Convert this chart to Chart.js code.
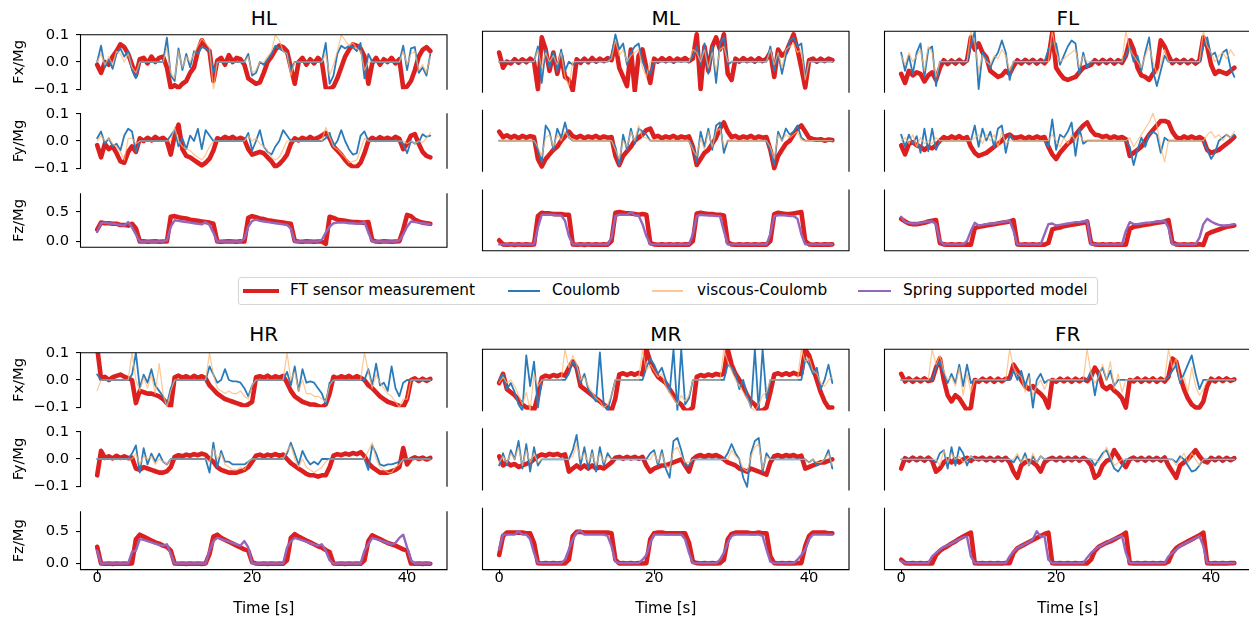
<!DOCTYPE html>
<html><head><meta charset="utf-8">
<script src="https://cdn.jsdelivr.net/npm/chart.js@4.4.0/dist/chart.umd.min.js"></script>
<style>
html,body{margin:0;padding:0;background:#fff;}
body{width:1249px;height:621px;overflow:hidden;position:relative;font-family:"DejaVu Sans",sans-serif;color:#000;}
canvas{position:absolute;}
.ttl{position:absolute;transform:translate(-50%,-50%);font-size:20px;line-height:1;white-space:nowrap;}
.lt{position:absolute;transform:translateY(-50%);font-size:15.3px;line-height:1;white-space:nowrap;}
.sw{position:absolute;}
#err{position:absolute;left:5px;top:300px;color:#f00;font-size:11px;}
</style></head><body>
<div class="ttl" style="left:263.75px;top:18.3px">HL</div>
<div class="ttl" style="left:665.75px;top:18.3px">ML</div>
<div class="ttl" style="left:1067.75px;top:18.3px">FL</div>
<div class="ttl" style="left:263.75px;top:333.5px">HR</div>
<div class="ttl" style="left:665.75px;top:333.5px">MR</div>
<div class="ttl" style="left:1067.75px;top:333.5px">FR</div>
<div style="position:absolute;left:238px;top:277px;width:860px;height:28px;border:1px solid #d6d6d6;border-radius:3px;box-sizing:border-box;"></div>
<div class="sw" style="left:243px;top:289px;width:36px;height:4px;background:#dc1f1f"></div>
<div class="lt" style="left:290px;top:291px">FT sensor measurement</div>
<div class="sw" style="left:508px;top:290.2px;width:32px;height:1.6px;background:#2b7bba"></div>
<div class="lt" style="left:552px;top:291px">Coulomb</div>
<div class="sw" style="left:652px;top:290.4px;width:31px;height:1.2px;background:rgba(255,180,110,0.75)"></div>
<div class="lt" style="left:697px;top:291px">viscous-Coulomb</div>
<div class="sw" style="left:858px;top:290px;width:33px;height:2.2px;background:#9467bd"></div>
<div class="lt" style="left:903px;top:291px">Spring supported model</div>
<div id="err"></div>
<script>
// ---------------- data ----------------
const TIME = [0,0.5,1,1.5,2,2.5,3,3.5,4,4.5,5,5.5,6,6.5,7,7.5,8,8.5,9,9.5,10,10.5,11,11.5,12,12.5,13,13.5,14,14.5,15,15.5,16,16.5,17,17.5,18,18.5,19,19.5,20,20.5,21,21.5,22,22.5,23,23.5,24,24.5,25,25.5,26,26.5,27,27.5,28,28.5,29,29.5,30,30.5,31,31.5,32,32.5,33,33.5,34,34.5,35,35.5,36,36.5,37,37.5,38,38.5,39,39.5,40,40.5,41,41.5,42,42.5,43];
const LEGS = ['HL','ML','FL','HR','MR','FR'];
const SERIES_NAMES = ['FT sensor measurement','Coulomb','viscous-Coulomb','Spring supported model'];
const Y_LABELS = ['Fx/Mg','Fy/Mg','Fz/Mg'];
const X_TICKS = [0,20,40];
const FXY_TICKS = [-0.1,0,0.1];
const FZ_TICKS = [0,0.5];

// ---- HL ----
const HL_FX_FT = [-0.01,-0.04,0.0,-0.01,0.02,0.04,0.065,0.055,0.03,-0.01,
-0.05,0.01,0.015,-0.005,0.02,0.0,0.015,0.02,-0.02,-0.095,
-0.085,-0.095,-0.08,-0.07,-0.04,-0.02,0.04,0.08,0.055,0.04,
-0.07,0.005,0.015,-0.01,0.025,0.0,0.015,0.01,-0.01,-0.06,
-0.07,-0.08,-0.075,-0.04,0.0,0.02,0.045,0.06,0.055,0.04,
-0.02,-0.08,0.0,0.015,-0.01,0.01,-0.005,0.015,0.0,-0.095,
-0.1,-0.09,-0.06,-0.02,0.02,0.045,0.065,0.06,0.05,0.02,
-0.08,-0.005,0.015,-0.01,0.01,0.0,0.015,-0.005,0.01,-0.095,
-0.09,-0.07,-0.03,0.02,0.045,0.055,0.04];
const HL_FX_COUL = [0.0,0.06,-0.02,0.01,-0.025,0.03,0.05,0.02,0.04,-0.03,
-0.06,0,0,0,0,0,0,0,0.09,-0.05,
-0.07,0.05,-0.03,0.03,-0.02,0.04,0.03,0.055,0.05,0.04,
-0.04,0,0,0,0,0,0,0,0,0.03,
-0.05,-0.04,0.0,-0.01,0.01,0.03,0.06,0.05,0.04,0.03,
-0.03,0,0,0,0,0,0,0,0,0.07,
-0.08,-0.05,0.03,0.06,0.05,0.06,0.055,0.04,0.07,-0.06,
0.03,0,0,0,0,0,0,0,0,0.06,
-0.03,0.05,0.055,-0.04,-0.02,-0.05,0.03];
const HL_FX_VISC = [0.0,0.03,-0.01,0.02,-0.01,0.04,0.03,0.0,0.03,-0.02,
-0.04,0,0,0,0,0,0,0,0.05,-0.04,
-0.06,0.04,-0.02,0.02,0.0,0.03,0.06,0.085,0.07,0.05,
-0.1,0,0,0,0,0,0,0,0,0.02,
-0.04,-0.03,0.0,0.0,0.02,0.04,0.1,0.08,0.04,0.03,
-0.05,0,0,0,0,0,0,0,0,0.03,
-0.05,-0.01,0.04,0.1,0.08,0.06,0.07,0.05,0.04,-0.03,
0.0,0,0,0,0,0,0,0,0,0.04,
-0.01,0.03,0.04,-0.03,-0.01,-0.04,0.02];
const HL_FY_FT = [-0.015,-0.06,-0.01,-0.03,-0.02,-0.045,-0.075,-0.08,-0.04,-0.02,
-0.04,0.01,0.0,0.012,0.002,0.015,0.005,0.012,0.0,-0.05,
0.02,0.06,-0.03,-0.055,-0.06,-0.07,-0.08,-0.09,-0.08,-0.065,
-0.035,0.01,0.005,0.015,0.008,0.015,0.005,0.012,0.005,-0.03,
-0.05,-0.045,-0.04,-0.045,-0.06,-0.075,-0.095,-0.085,-0.07,-0.05,
-0.01,0.01,0.002,0.012,0.005,0.015,0.006,0.012,0.02,0.03,
0.01,-0.02,-0.035,-0.05,-0.07,-0.085,-0.095,-0.095,-0.08,-0.045,
0.0,0.012,0.004,0.014,0.006,0.012,0.005,0.015,0.008,-0.03,
-0.01,0.02,0.025,-0.01,-0.04,-0.055,-0.06];
const HL_FY_COUL = [0.01,0.035,-0.01,0.01,-0.02,-0.01,-0.035,0.02,0.045,0.035,
-0.04,0,0,0,0,0,0,0,0,0.02,
0.04,-0.02,0.01,-0.03,0.02,0.0,0.045,-0.03,0.04,0.02,
0.0,0,0,0,0,0,0,0,0,0.03,
-0.035,0.0,0.04,-0.02,-0.04,-0.05,-0.02,0.0,0.04,0.02,
0.0,0,0,0,0,0,0,0,0,0.01,
0.03,-0.02,0.0,0.04,0.0,-0.03,-0.05,-0.045,0.02,0.035,
0.0,0,0,0,0,0,0,0,0,-0.01,
-0.045,0.0,-0.01,-0.005,0.025,0.015,0.02];
const HL_FY_VISC = [0.0,0.02,0.0,0.01,-0.01,-0.02,-0.04,-0.07,0.01,0.01,
-0.01,0,0,0,0,0,0,0,0,0.0,
0.05,0.0,-0.02,-0.03,-0.035,-0.05,-0.06,-0.07,-0.05,-0.02,
0.0,0,0,0,0,0,0,0,0,0.02,
0.0,0.01,-0.01,-0.02,-0.035,-0.06,-0.07,-0.06,-0.03,0.0,
0.0,0,0,0,0,0,0,0,0,0.05,
0.015,-0.02,-0.03,-0.045,-0.06,-0.08,-0.075,-0.07,-0.03,0.01,
0.0,0,0,0,0,0,0,0,0,0.0,
-0.01,0.0,-0.01,0.0,-0.005,0.01,0.03];
const HL_FZ_FT = [0.2,0.32,0.31,0.31,0.30,0.30,0.28,0.28,0.27,0.30,
0.22,0.0,0.005,-0.005,0.0,0.005,-0.005,0.0,0.0,0.42,
0.43,0.41,0.40,0.39,0.37,0.36,0.35,0.34,0.33,0.32,
0.30,0.0,-0.005,0.0,0.005,0.0,-0.005,0.005,0.0,0.40,
0.43,0.41,0.39,0.38,0.36,0.35,0.34,0.33,0.32,0.31,
0.30,0.01,0.0,-0.005,0.005,0.0,-0.005,0.0,0.0,-0.04,
0.42,0.40,0.37,0.36,0.35,0.34,0.33,0.33,0.32,0.32,
0.33,0.02,0.0,-0.005,0.005,0.0,-0.005,0.0,0.005,0.20,
0.45,0.43,0.37,0.34,0.32,0.31,0.30];
const HL_FZ_SPRING = [0.16,0.31,0.32,0.31,0.30,0.29,0.28,0.27,0.33,0.24,
0.12,0,0,0,0,0,0,0,0.02,0.25,
0.36,0.35,0.34,0.33,0.32,0.31,0.30,0.29,0.33,0.28,
0.15,0,0,0,0,0,0,0,0.05,0.25,
0.35,0.37,0.35,0.34,0.33,0.32,0.31,0.30,0.29,0.28,
0.22,0,0,0,0,0,0,0,0.03,0.15,
0.25,0.31,0.32,0.32,0.32,0.31,0.31,0.30,0.30,0.33,
0.15,0,0,0,0,0,0,0,0.02,0.12,
0.25,0.34,0.33,0.32,0.31,0.30,0.29];

// ---- ML ----
const ML_FX_FT = [0.03,-0.02,0.0,-0.006,0.008,-0.004,0.008,-0.002,0.01,0.0,
-0.09,0.08,0.04,-0.03,0.03,-0.04,0.02,-0.05,-0.06,-0.095,
0.008,-0.004,0.01,-0.002,0.012,0.0,0.01,0.002,0.012,0.005,
0.06,-0.02,-0.05,-0.08,0.04,-0.095,0.02,0.04,-0.02,-0.07,
0.01,0.0,0.012,0.002,0.012,0.0,0.01,0.004,0.012,0.002,
0.01,0.09,-0.09,0.05,-0.03,0.05,0.08,0.04,0.09,-0.04,
-0.06,0.01,0.0,0.012,0.002,0.01,0.0,0.012,0.002,0.01,
0.03,-0.05,0.04,0.02,0.03,0.06,0.09,0.04,-0.02,-0.085,
0.005,0.01,0.0,0.01,0.002,0.01,0.005];
const ML_FX_COUL = [0,0,0,0,0,0,0,0,0,0,
0.05,-0.07,0.04,-0.02,0.03,-0.03,0.04,-0.03,0.0,-0.01,
0,0,0,0,0,0,0,0,0,0.02,
0.09,0.04,0.06,-0.01,0.03,0.05,0.06,0.0,-0.03,-0.04,
0,0,0,0,0,0,0,0,0,0,
0.02,0.05,-0.01,0.06,-0.04,0.05,-0.07,0.06,0.08,-0.01,
0,0,0,0,0,0,0,0,0,0,
0.05,-0.03,0.03,-0.04,0.02,0.07,0.08,0.05,0.06,-0.05,
0,0,0,0,0,0,0];
const ML_FX_VISC = [0,0,0,0,0,0,0,0,0,0,
0.04,-0.02,0.03,0.0,0.02,-0.01,0.03,-0.05,-0.08,0.0,
0,0,0,0,0,0,0,0,0,0.01,
0.07,0.02,0.04,0.0,0.02,0.03,0.04,-0.02,-0.05,0.0,
0,0,0,0,0,0,0,0,0,0,
0.04,0.03,0.0,0.04,-0.02,0.03,-0.03,0.04,0.05,0.0,
0,0,0,0,0,0,0,0,0,0,
0.04,-0.01,0.03,-0.02,0.04,0.05,0.06,0.03,0.04,-0.06,
0,0,0,0,0,0,0];
const ML_FY_FT = [0.03,0.012,0.018,0.01,0.016,0.008,0.016,0.01,0.015,0.012,
-0.06,-0.085,-0.06,-0.045,-0.03,-0.02,0.0,0.015,0.03,0.015,
0.01,0.016,0.008,0.014,0.01,0.016,0.008,0.014,0.01,0.012,
-0.05,-0.08,-0.05,-0.035,-0.02,0.0,0.01,0.02,0.035,0.04,
0.012,0.016,0.008,0.014,0.01,0.016,0.008,0.014,0.01,0.014,
-0.02,-0.08,-0.06,-0.04,-0.03,-0.01,0.01,0.04,0.06,0.03,
0.012,0.016,0.008,0.014,0.01,0.016,0.008,0.014,0.01,0.012,
-0.03,-0.09,-0.05,-0.03,-0.01,0.0,0.02,0.04,0.05,0.03,
0.01,0.006,0.003,0.005,0.0,0.004,0.002];
const ML_FY_COUL = [0,0,0,0,0,0,0,0,0,0,
-0.03,-0.07,0.05,0.03,-0.03,0.04,0.01,0.06,0.01,0.0,
0,0,0,0,0,0,0,0,0,0,
-0.02,-0.08,0.02,-0.03,0.04,-0.01,0.04,0.03,0.02,0.0,
0,0,0,0,0,0,0,0,0,0,
-0.02,-0.07,0.03,-0.02,0.04,-0.03,0.05,0.06,-0.04,0.0,
0,0,0,0,0,0,0,0,0,0,
-0.03,-0.08,0.03,0.0,0.04,0.02,0.03,0.05,0.01,0.0,
0,0,0,0,0,0,0];
const ML_FY_VISC = [0,0,0,0,0,0,0,0,0,0,
-0.02,-0.05,0.01,0.02,-0.02,0.02,0.0,0.03,0.01,0.0,
0,0,0,0,0,0,0,0,0,0,
-0.03,-0.06,0.0,-0.02,0.03,0.0,0.05,0.01,0.01,0.0,
0,0,0,0,0,0,0,0,0,0,
-0.03,-0.05,0.01,-0.03,0.03,-0.02,0.03,0.04,-0.02,0.0,
0,0,0,0,0,0,0,0,0,0,
-0.02,-0.06,0.02,0.0,0.02,0.01,0.02,0.03,0.0,0.0,
0,0,0,0,0,0,0];
const ML_FZ_FT = [0.06,0.0,-0.005,0.0,-0.008,0.0,-0.005,0.0,-0.006,0.0,
0.42,0.47,0.46,0.46,0.45,0.45,0.45,0.44,0.44,0.0,
-0.005,0.0,-0.008,0.0,-0.005,0.0,-0.006,0.0,-0.005,0.05,
0.47,0.48,0.47,0.46,0.46,0.45,0.44,0.45,0.44,0.02,
0.0,-0.005,0.0,-0.007,0.0,-0.005,0.0,-0.006,0.0,-0.004,
0.05,0.46,0.47,0.46,0.45,0.45,0.44,0.44,0.43,0.03,
0.0,-0.005,0.0,-0.006,0.0,-0.005,0.0,-0.007,0.0,-0.004,
0.05,0.45,0.47,0.46,0.45,0.45,0.46,0.47,0.48,0.05,
0.0,-0.005,0.0,-0.006,0.0,-0.004,0.0];
const ML_FZ_SPRING = [0,0,0,0,0,0,0,0,0,0,
0.25,0.44,0.44,0.44,0.44,0.43,0.43,0.35,0.12,0.0,
0,0,0,0,0,0,0,0,0,0.1,
0.42,0.44,0.44,0.44,0.48,0.43,0.43,0.30,0.12,0.0,
0,0,0,0,0,0,0,0,0,0,
0.15,0.42,0.44,0.43,0.43,0.43,0.42,0.42,0.2,0.0,
0,0,0,0,0,0,0,0,0,0,
0.15,0.42,0.43,0.43,0.43,0.42,0.42,0.38,0.15,0.0,
0,0,0,0,0,0,0];

// ---- FL ----
const FL_FX_FT = [-0.04,-0.07,-0.03,-0.045,-0.035,-0.04,-0.065,-0.045,-0.035,-0.06,
-0.02,0.005,-0.008,0.004,-0.006,0.006,-0.006,0.004,0.08,0.04,
0.06,0.03,0.015,-0.03,-0.04,-0.05,-0.045,-0.03,-0.04,-0.015,
0.005,-0.006,0.006,-0.004,0.006,-0.006,0.005,-0.005,0.01,0.095,
-0.02,-0.04,-0.055,-0.06,-0.055,-0.05,-0.035,-0.02,-0.015,-0.01,
0.005,-0.006,0.006,-0.004,0.006,-0.006,0.005,-0.004,0.02,0.07,
0.04,-0.02,-0.045,-0.05,-0.06,-0.04,-0.02,0.07,0.05,0.02,
-0.005,0.006,-0.004,0.006,-0.005,0.005,-0.006,0.004,0.08,0.05,
-0.01,-0.04,-0.03,-0.035,-0.04,-0.03,-0.02];
const FL_FX_COUL = [0.03,-0.03,0.02,-0.04,0.03,0.06,-0.05,0.04,0.05,-0.08,
0.0,0,0,0,0,0,0,0,0.05,0.1,
-0.09,0.03,0.01,-0.02,0.01,0.03,0.07,0.03,-0.06,0.0,
0,0,0,0,0,0,0,0,0.04,0.06,
0.06,-0.01,0.02,0.05,0.07,0.06,-0.04,0.03,-0.02,0.0,
0,0,0,0,0,0,0,0,0.02,0.05,
0.0,0.02,-0.03,0.03,0.08,-0.03,-0.08,-0.03,0.02,0.0,
0,0,0,0,0,0,0,0,0.05,0.08,
0.02,0.03,-0.01,0.03,0.04,-0.02,-0.05];
const FL_FX_VISC = [0.02,-0.01,0.03,0.0,0.02,0.04,-0.03,0.05,0.03,-0.05,
0.0,0,0,0,0,0,0,0,0.1,0.06,
-0.03,0.02,0.0,-0.01,0.02,0.01,0.04,0.02,-0.03,0.0,
0,0,0,0,0,0,0,0,0.0,0.1,
0.03,0.0,0.01,0.02,0.03,0.04,-0.02,0.02,0.0,0.0,
0,0,0,0,0,0,0,0,0.1,0.04,
0.02,0.0,-0.02,0.02,0.05,0.0,-0.04,-0.01,0.04,0.0,
0,0,0,0,0,0,0,0,0.1,0.05,
0.03,0.0,0.02,0.03,0.01,0.04,0.02];
const FL_FY_FT = [-0.015,-0.045,-0.01,-0.005,-0.015,-0.02,-0.03,-0.02,-0.025,-0.015,
0.0,0.012,0.006,0.014,0.008,0.015,0.006,0.012,-0.02,-0.04,
-0.05,-0.045,-0.04,-0.03,-0.02,-0.01,0.0,0.015,0.02,0.01,
0.01,0.014,0.006,0.013,0.007,0.014,0.008,0.012,-0.02,-0.045,
-0.06,-0.04,-0.025,-0.01,0.0,0.02,0.035,0.05,0.06,0.035,
0.02,0.018,0.012,0.016,0.008,0.014,0.008,0.012,0.005,-0.05,
-0.04,-0.03,-0.02,0.0,0.02,0.035,0.05,0.065,0.065,0.06,
0.03,0.012,0.006,0.014,0.008,0.014,0.007,0.012,0.004,-0.03,
-0.04,-0.035,-0.03,-0.02,-0.01,0.0,0.012];
const FL_FY_COUL = [0.02,-0.02,0.02,-0.01,0.015,-0.04,0.04,-0.035,0.04,-0.03,
0.0,0,0,0,0,0,0,0,0.0,0.05,
-0.02,0.04,0.0,0.03,-0.02,0.04,0.05,-0.04,0.02,0.0,
0,0,0,0,0,0,0,0,-0.02,0.07,
-0.03,0.02,0.01,0.03,0.06,-0.05,0.04,-0.01,0.0,0.0,
0,0,0,0,0,0,0,0,0.0,-0.02,
-0.08,-0.03,0.01,-0.02,0.02,0.03,0.02,-0.04,0.01,0.0,
0,0,0,0,0,0,0,0,0.0,-0.03,
-0.06,-0.04,0.0,0.01,0.02,0.01,0.02];
const FL_FY_VISC = [0.0,0.01,-0.01,0.02,-0.02,0.01,-0.01,0.0,-0.01,0.01,
0.0,0,0,0,0,0,0,0,0.0,0.01,
0.02,-0.01,0.02,0.0,0.02,-0.02,0.03,-0.01,0.0,0.0,
0,0,0,0,0,0,0,0,0.0,0.02,
0.0,-0.02,0.01,-0.01,0.02,0.0,0.02,0.0,0.0,0.0,
0,0,0,0,0,0,0,0,0.0,0.01,
-0.02,0.0,0.02,0.04,0.06,0.09,0.05,-0.02,-0.07,0.0,
0,0,0,0,0,0,0,0,0.0,0.02,
0.03,0.01,0.02,0.0,0.02,0.01,0.03];
const FL_FZ_FT = [0.38,0.34,0.31,0.30,0.30,0.31,0.32,0.34,0.35,0.36,
0.02,0.0,-0.005,0.0,-0.006,0.0,-0.005,0.0,-0.005,0.24,
0.26,0.27,0.28,0.29,0.30,0.31,0.32,0.33,0.34,0.36,
0.0,-0.005,0.0,-0.006,0.0,-0.005,0.0,-0.005,0.02,0.22,
0.24,0.25,0.27,0.28,0.29,0.30,0.31,0.32,0.34,0.02,
0.0,-0.005,0.0,-0.006,0.0,-0.005,0.0,-0.005,-0.005,0.23,
0.26,0.27,0.28,0.29,0.30,0.31,0.32,0.33,0.34,0.36,
0.03,0.0,-0.005,0.0,-0.006,0.0,-0.005,0.0,-0.01,0.15,
0.18,0.20,0.22,0.24,0.26,0.27,0.28];
const FL_FZ_SPRING = [0.41,0.33,0.32,0.31,0.31,0.32,0.33,0.34,0.34,0.30,
0.05,0,0,0,0,0,0,0.05,0.2,0.32,
0.28,0.29,0.30,0.31,0.31,0.32,0.33,0.34,0.35,0.2,
0.0,0,0,0,0,0,0,0.15,0.3,0.31,
0.28,0.29,0.30,0.31,0.32,0.33,0.33,0.34,0.35,0.0,
0,0,0,0,0,0,0,0,0.2,0.33,
0.30,0.30,0.31,0.32,0.32,0.33,0.34,0.34,0.35,0.25,
0.0,0,0,0,0,0,0,0.1,0.30,0.38,
0.34,0.31,0.29,0.28,0.28,0.29,0.30];

// ---- HR ----
const HR_FX_FT = [0.12,0.005,0.012,0.0,0.01,0.015,0.02,0.012,0.006,0.0,
-0.085,-0.04,-0.045,-0.05,-0.05,-0.055,-0.06,-0.07,-0.085,-0.1,
0.01,0.016,0.008,0.014,0.006,0.015,0.008,0.014,0.006,-0.02,
-0.035,-0.05,-0.06,-0.07,-0.075,-0.08,-0.085,-0.09,-0.095,-0.09,
-0.08,0.01,0.014,0.008,0.016,0.006,0.014,0.008,0.015,-0.01,
-0.04,-0.06,-0.07,-0.08,-0.085,-0.09,-0.09,-0.095,-0.1,-0.09,
-0.05,0.012,0.006,0.014,0.008,0.015,0.006,0.014,0.008,0.0,
-0.02,-0.03,-0.045,-0.06,-0.07,-0.08,-0.085,-0.09,-0.095,-0.1,
-0.07,0.0,0.006,-0.004,0.005,-0.003,0.004];
const HR_FX_COUL = [0.02,0,0,0,0,0,0,0,0,0.02,
0.1,-0.03,0.02,-0.01,0.04,-0.02,-0.04,-0.06,-0.09,-0.03,
0,0,0,0,0,0,0,0,0,0.05,
0.02,-0.01,0.0,0.04,0.0,-0.005,-0.005,-0.01,-0.03,-0.06,
-0.02,0,0,0,0,0,0,0,0,0.03,
-0.02,0.05,-0.04,0.04,-0.01,-0.005,-0.01,-0.03,-0.05,-0.09,
-0.01,0,0,0,0,0,0,0,0,0.0,
0.04,-0.02,0.06,-0.02,-0.01,-0.04,0.05,-0.03,-0.06,-0.01,
0,0,0,0,0,0,0];
const HR_FX_VISC = [-0.04,0,0,0,0,0,0,0,0,0.1,
0.0,-0.04,0.01,-0.03,0.02,-0.05,0.06,-0.05,-0.1,-0.04,
0,0,0,0,0,0,0,0,0,0.1,
0.02,-0.03,-0.04,-0.05,-0.04,-0.05,-0.05,-0.04,-0.06,-0.07,
-0.02,0,0,0,0,0,0,0,0,0.1,
0.0,0.03,-0.04,0.0,-0.05,-0.05,-0.06,-0.06,-0.07,-0.08,
-0.02,0,0,0,0,0,0,0,0,0.1,
0.03,-0.03,0.02,-0.01,-0.03,-0.05,-0.06,-0.08,-0.1,-0.07,
-0.07,0,0,0,0,0,0];
const HR_FY_FT = [-0.06,0.03,0.004,0.01,0.002,0.012,0.004,0.01,0.003,0.005,
-0.035,-0.04,-0.03,-0.035,-0.04,-0.045,-0.05,-0.05,-0.045,-0.03,
0.008,0.014,0.01,0.016,0.012,0.018,0.014,0.02,0.015,0.0,
-0.01,-0.03,-0.04,-0.045,-0.05,-0.05,-0.05,-0.045,-0.04,-0.03,
-0.01,0.012,0.016,0.01,0.016,0.012,0.018,0.012,0.016,0.0,
-0.015,-0.025,-0.035,-0.045,-0.055,-0.06,-0.06,-0.065,-0.06,-0.06,
-0.03,0.012,0.018,0.014,0.02,0.016,0.022,0.018,0.025,0.01,
-0.015,-0.03,-0.04,-0.05,-0.05,-0.05,-0.045,-0.04,-0.03,0.04,
-0.02,0.0,0.006,0.0,0.005,-0.002,0.004];
const HR_FY_COUL = [0.0,0,0,0,0,0,0,0,0,0.02,
0.05,-0.05,0.04,-0.02,0.02,-0.01,0.02,-0.01,-0.02,0.0,
0,0,0,0,0,0,0,0,0,-0.05,
0.06,-0.03,0.03,-0.01,-0.01,-0.02,-0.02,-0.02,-0.02,-0.01,
0,0,0,0,0,0,0,0,0,0.02,
0.06,0.02,-0.02,0.03,0.0,-0.02,-0.01,-0.02,0.0,0.0,
0,0,0,0,0,0,0,0,0,0,
-0.04,0.05,0.02,-0.02,-0.025,-0.02,-0.02,-0.015,-0.01,-0.005,
0,0,0,0,0,0,0];
const HR_FY_VISC = [0,0,0,0,0,0,0,0,0,0,
0.02,-0.02,0.01,0.0,0.01,-0.02,0.0,-0.01,-0.02,0.0,
0,0,0,0,0,0,0,0,0,-0.01,
0.04,0.0,0.02,-0.02,-0.03,-0.04,-0.04,-0.03,-0.04,-0.01,
0,0,0,0,0,0,0,0,0,0.03,
0.05,0.0,-0.03,0.0,-0.03,-0.04,-0.05,-0.04,-0.03,-0.01,
0,0,0,0,0,0,0,0,0,0,
0.03,0.06,0.0,-0.03,-0.04,-0.05,-0.05,-0.03,-0.02,0.0,
0,0,0,0,0,0,0];
const HR_FZ_FT = [0.26,0.0,-0.005,0.0,-0.006,0.0,-0.005,0.0,-0.005,0.0,
0.38,0.45,0.42,0.39,0.36,0.33,0.31,0.28,0.26,0.2,
0.0,-0.005,0.0,-0.006,0.0,-0.005,0.0,-0.006,0.0,0.15,
0.42,0.45,0.40,0.37,0.34,0.31,0.28,0.25,0.22,0.2,
0.02,0.0,-0.005,0.0,-0.006,0.0,-0.005,0.0,-0.005,0.05,
0.40,0.46,0.42,0.39,0.36,0.33,0.30,0.27,0.25,0.21,
0.18,0.0,-0.005,0.0,-0.006,0.0,-0.005,0.0,-0.005,0.05,
0.35,0.44,0.41,0.38,0.35,0.32,0.30,0.28,0.25,0.22,
0.2,0.0,-0.005,0.0,-0.006,0.0,-0.004];
const HR_FZ_SPRING = [0.2,0,0,0,0,0,0,0,0,0.18,
0.2,0.38,0.37,0.35,0.33,0.31,0.29,0.28,0.3,0.15,
0,0,0,0,0,0,0,0,0,0.2,
0.35,0.40,0.38,0.36,0.34,0.32,0.30,0.28,0.35,0.25,
0,0,0,0,0,0,0,0,0,0.25,
0.35,0.40,0.38,0.36,0.34,0.32,0.30,0.28,0.30,0.20,
0.05,0,0,0,0,0,0,0,0,0.2,
0.3,0.40,0.38,0.36,0.34,0.32,0.30,0.32,0.40,0.45,
0.25,0.05,0,0,0,0,0];

// ---- MR ----
const MR_FX_FT = [-0.01,0.02,-0.03,-0.04,-0.05,-0.065,-0.08,-0.09,-0.09,-0.1,
-0.05,0.008,0.014,0.01,0.016,0.012,0.018,0.014,0.04,0.06,
0.04,-0.02,-0.03,-0.04,-0.05,-0.06,-0.07,-0.08,-0.09,-0.1,
-0.06,0.018,0.022,0.016,0.022,0.017,0.023,0.018,0.1,0.06,
0.03,0.01,0.0,-0.01,-0.03,-0.05,-0.07,-0.08,-0.1,-0.1,
-0.09,0.01,0.016,0.012,0.018,0.014,0.02,0.016,0.02,0.1,
0.05,0.02,0.0,-0.02,-0.05,-0.07,-0.08,-0.1,-0.1,-0.09,
-0.04,0.018,0.022,0.016,0.022,0.017,0.023,0.018,0.02,0.1,
0.08,0.04,0.0,-0.04,-0.07,-0.09,-0.09];
const MR_FX_COUL = [0.0,0.02,-0.03,-0.01,-0.04,-0.08,-0.1,0.08,-0.02,0.06,
-0.09,0,0,0,0,0,0,0,0.02,0.06,
0.04,-0.01,0.02,-0.03,-0.05,-0.07,0.09,-0.08,-0.1,-0.05,
0,0,0,0,0,0,0,0,0.04,0.07,
0.05,0.02,0.04,0.0,-0.04,0.1,-0.1,0.1,-0.08,-0.06,
0,0,0,0,0,0,0,0,0,0.05,
0.04,0.02,-0.03,0.0,-0.05,-0.09,0.1,-0.1,0.1,-0.06,
0,0,0,0,0,0,0,0,0,0.07,
0.05,0.02,0.04,-0.03,0.0,0.05,-0.01];
const MR_FX_VISC = [-0.01,0.01,-0.01,0.0,-0.02,-0.05,-0.08,-0.04,-0.1,0.02,
-0.02,0,0,0,0,0,0,0.1,0.04,0.08,
0.05,0.0,0.01,-0.02,-0.04,-0.06,-0.07,-0.09,-0.08,-0.05,
0,0,0,0,0,0,0,0.1,0.03,0.05,
0.03,0.01,0.02,-0.02,-0.04,-0.06,-0.08,-0.05,-0.07,-0.05,
0,0,0,0,0,0,0,0,0.1,0.06,
0.03,0.0,-0.02,-0.04,-0.06,-0.09,-0.1,-0.08,-0.05,-0.04,
0,0,0,0,0,0,0,0,0.1,0.06,
0.07,0.03,0.02,-0.01,-0.02,0.0,0.01];
const MR_FY_FT = [0.01,-0.02,-0.01,-0.02,-0.015,-0.025,-0.02,-0.015,-0.01,0.0,
0.01,0.016,0.012,0.018,0.014,0.018,0.012,0.016,-0.04,-0.03,
-0.02,-0.03,-0.02,-0.03,-0.02,-0.03,-0.025,-0.03,-0.02,-0.01,
0.005,0.008,0.002,0.008,0.003,0.008,0.002,0.008,-0.02,-0.04,
-0.03,-0.025,-0.02,-0.02,-0.015,-0.01,-0.005,0.0,-0.02,-0.04,
0.0,0.01,0.014,0.008,0.014,0.01,0.014,0.008,0.0,-0.01,
-0.015,-0.02,-0.03,-0.035,-0.04,-0.03,-0.035,-0.04,-0.045,-0.05,
-0.01,0.01,0.014,0.008,0.014,0.01,0.014,0.008,0.012,-0.03,
-0.025,-0.02,-0.015,-0.01,-0.01,-0.005,0.0];
const MR_FY_COUL = [-0.02,0.02,-0.02,0.03,0.0,0.06,-0.03,0.05,-0.04,0.04,
-0.02,0,0,0,0,0,0,0,0.0,0.03,
0.08,-0.02,0.04,-0.03,0.03,-0.04,0.04,-0.02,0.02,0.0,
0,0,0,0,0,0,0,0,0.0,0.02,
0.03,-0.02,0.03,-0.03,-0.06,0.06,0.07,0.03,-0.02,-0.02,
0,0,0,0,0,0,0,0,0.0,0.02,
0.05,0.02,0.0,-0.06,-0.09,0.02,0.06,0.07,-0.04,0.02,
0,0,0,0,0,0,0,0,0,0.0,
-0.01,0.0,-0.02,-0.01,0.0,0.03,-0.03];
const MR_FY_VISC = [-0.01,0.01,-0.01,0.02,0.0,0.04,-0.02,0.03,-0.01,0.02,
-0.01,0,0,0,0,0,0,0,0,0.01,
0.05,0.0,0.02,-0.01,0.02,-0.02,0.02,-0.01,0.01,0.0,
0,0,0,0,0,0,0,0,0,0,
0.02,-0.01,0.02,-0.02,-0.03,0.03,0.04,0.01,-0.01,-0.01,
0,0,0,0,0,0,0,0,0,0,
0.03,0.01,0.0,-0.03,-0.04,0.01,0.04,0.05,-0.03,0.01,
0,0,0,0,0,0,0,0,0,0,
-0.01,0.0,-0.01,-0.01,0.0,0.02,-0.02];
const MR_FZ_FT = [0.12,0.40,0.45,0.45,0.45,0.45,0.45,0.44,0.44,0.3,
0.0,-0.005,0.0,-0.006,0.0,-0.005,0.0,-0.005,0.05,0.40,
0.46,0.46,0.45,0.45,0.45,0.45,0.45,0.45,0.45,0.44,
0.05,-0.005,0.0,-0.006,0.0,-0.005,0.0,-0.006,0.0,0.35,
0.44,0.45,0.45,0.44,0.44,0.44,0.44,0.44,0.44,0.3,
0.02,0.0,-0.005,0.0,-0.006,0.0,-0.005,0.0,0.05,0.35,
0.43,0.45,0.45,0.45,0.45,0.44,0.44,0.45,0.44,0.44,
0.1,0.0,-0.005,0.0,-0.006,0.0,-0.005,0.0,0.0,0.25,
0.40,0.45,0.45,0.45,0.45,0.44,0.44];
const MR_FZ_SPRING = [0.2,0.42,0.42,0.42,0.42,0.47,0.42,0.42,0.35,0.15,
0.0,0,0,0,0,0,0,0.05,0.2,0.35,
0.45,0.48,0.42,0.42,0.42,0.42,0.42,0.42,0.4,0.25,
0.02,0,0,0,0,0,0,0.05,0.12,0.3,
0.42,0.42,0.42,0.42,0.42,0.42,0.42,0.42,0.35,0.15,
0.0,0,0,0,0,0,0,0.05,0.15,0.3,
0.40,0.42,0.42,0.42,0.42,0.42,0.42,0.42,0.4,0.2,
0.02,0,0,0,0,0,0,0.05,0.12,0.2,
0.35,0.42,0.42,0.42,0.42,0.42,0.42];

// ---- FR ----
const FR_FX_FT = [0.02,-0.005,0.005,-0.006,0.004,-0.005,0.005,-0.004,0.0,0.04,
0.07,0.0,-0.05,-0.07,-0.05,-0.06,-0.08,-0.1,-0.09,0.0,
-0.006,0.004,-0.005,0.005,-0.006,0.004,-0.005,0.004,0.005,0.05,
0.03,0.0,-0.02,-0.03,-0.02,-0.035,-0.045,-0.06,-0.09,0.0,
-0.006,0.004,-0.005,0.004,-0.006,0.004,-0.005,0.004,-0.004,0.01,
0.04,0.02,-0.02,-0.03,-0.02,-0.035,-0.045,-0.06,-0.09,0.0,
-0.005,0.005,-0.006,0.004,-0.005,0.005,-0.006,0.004,-0.005,0.01,
0.07,0.06,0.01,-0.03,-0.06,-0.08,-0.09,-0.09,-0.07,-0.02,
0.004,-0.005,0.005,-0.004,0.005,-0.003,0.002];
const FR_FX_COUL = [0,0,0,0,0,0,0,0,0.0,0.04,
0.06,0.02,-0.01,0.02,-0.01,0.05,-0.02,0.05,-0.01,0.0,
0,0,0,0,0,0,0,0,0,0.03,
0.0,0.03,-0.02,0.02,-0.09,0.0,0.02,-0.01,0.0,0.0,
0,0,0,0,0,0,0,0,0,0.03,
-0.05,0.02,0.04,0.0,0.03,-0.02,0.0,0.0,0.0,0.0,
0,0,0,0,0,0,0,0,0,0.01,
0.03,0.05,-0.01,0.02,0.05,0.08,0.02,-0.03,0.0,0.0,
0,0,0,0,0,0,0];
const FR_FX_VISC = [0,0,0,0,0,0,0,0,0.1,0.05,
0.08,0.03,0.0,0.01,-0.02,0.04,-0.05,0.02,-0.04,0.0,
0,0,0,0,0,0,0,0,0.1,0.04,
0.02,0.01,-0.04,0.01,-0.05,-0.02,0.0,-0.03,0.0,0.0,
0,0,0,0,0,0,0,0,0.1,0.02,
-0.01,0.01,0.05,0.0,0.06,-0.03,0.02,-0.04,0.0,0.0,
0,0,0,0,0,0,0,0,0,0.1,
0.04,0.07,0.0,0.01,-0.04,0.04,-0.02,-0.05,-0.03,0.0,
0,0,0,0,0,0,0];
const FR_FY_FT = [-0.03,0.004,-0.004,0.006,-0.003,0.005,-0.004,0.006,-0.005,-0.04,
-0.03,-0.01,0.0,-0.01,0.0,-0.01,0.0,0.005,-0.005,0.005,
0.0,0.006,-0.003,0.005,-0.004,0.006,-0.003,0.005,-0.01,-0.04,
-0.06,-0.02,-0.01,-0.005,-0.01,-0.02,-0.04,-0.01,0.0,0.005,
-0.003,0.006,-0.004,0.005,-0.003,0.006,-0.004,0.005,-0.003,-0.02,
-0.06,-0.05,-0.02,-0.005,0.0,0.03,0.01,-0.01,-0.025,0.0,
0.006,-0.003,0.005,-0.004,0.006,-0.003,0.005,-0.004,0.006,-0.02,
-0.04,-0.06,-0.02,-0.01,0.0,0.015,0.03,0.01,-0.005,-0.01,
0.005,-0.003,0.006,-0.004,0.005,-0.003,0.004];
const FR_FY_COUL = [0,0,0,0,0,0,0,0,0,-0.01,
0.02,0.03,-0.03,0.04,-0.02,0.04,0.02,-0.02,0.01,0.0,
0,0,0,0,0,0,0,0,0,-0.01,
0.01,-0.01,0.02,-0.02,0.01,-0.01,0.01,0.0,0.0,0.0,
0,0,0,0,0,0,0,0,0,0.0,
-0.02,0.0,0.02,0.03,0.0,-0.03,-0.04,-0.02,0.0,0.0,
0,0,0,0,0,0,0,0,0,0.0,
0.0,-0.01,0.01,0.0,-0.02,-0.04,-0.035,-0.02,0.0,0.0,
0,0,0,0,0,0,0];
const FR_FY_VISC = [0,0,0,0,0,0,0,0,0,0,
-0.02,0.03,-0.01,0.02,0.0,0.01,-0.01,0.0,0.01,0.0,
0,0,0,0,0,0,0,0,0,0,
0.02,-0.01,0.01,-0.02,0.02,-0.01,0.01,0.0,0.0,0.0,
0,0,0,0,0,0,0,0,0,0,
0.0,-0.01,0.01,0.04,0.01,-0.02,-0.01,0.0,0.0,0.0,
0,0,0,0,0,0,0,0,0,0,
0.0,-0.02,0.0,0.02,-0.01,0.02,0.0,-0.02,0.0,0.0,
0,0,0,0,0,0,0];
const FR_FZ_FT = [0.05,0.0,-0.005,0.0,-0.005,0.0,-0.005,0.0,-0.005,0.12,
0.18,0.22,0.25,0.29,0.32,0.36,0.39,0.42,0.45,0.0,
-0.005,0.0,-0.005,0.0,-0.005,0.0,-0.005,0.0,0.0,0.15,
0.22,0.25,0.28,0.31,0.34,0.37,0.40,0.43,0.45,0.0,
-0.005,0.0,-0.005,0.0,-0.005,0.0,-0.005,0.0,-0.005,0.05,
0.18,0.24,0.27,0.30,0.32,0.35,0.38,0.41,0.45,0.0,
-0.005,0.0,-0.005,0.0,-0.005,0.0,-0.005,0.0,-0.005,0.02,
0.15,0.22,0.26,0.29,0.32,0.35,0.38,0.41,0.45,0.0,
-0.005,0.0,-0.005,0.0,-0.005,0.0,0.0];
const FR_FZ_SPRING = [0.03,0,0,0,0,0,0,0,0.1,0.15,
0.2,0.24,0.26,0.29,0.32,0.35,0.38,0.39,0.1,0.0,
0,0,0,0,0,0,0,0,0.1,0.17,
0.22,0.25,0.28,0.31,0.35,0.47,0.39,0.40,0.05,0.0,
0,0,0,0,0,0,0,0,0.08,0.15,
0.2,0.24,0.27,0.30,0.33,0.36,0.38,0.40,0.15,0.0,
0,0,0,0,0,0,0,0,0,0.1,
0.15,0.2,0.25,0.28,0.31,0.34,0.37,0.40,0.25,0.0,
0,0,0,0,0,0,0];

// ---------------- styles / layout ----------------
const COLORS = { ft:'#dc1f1f', coul:'#2b7bba', visc:'rgba(255,180,110,0.75)', spring:'#9467bd' };
const WIDTHS = { ft:4.6, coul:1.8, visc:1.2, spring:2.4 };
const GEOM = {
  colLeft:[80.5,482.5,884.5], plotW:366.5,
  rowTop:[[31.3,110.3,190.0],[349.3,428.7,508.3]],
  rowH:[60.8,61.3]
};
const FONT = "'DejaVu Sans', sans-serif";

const PANELS = [
  {leg:'HL',grp:0,col:0,rows:[[HL_FX_FT,HL_FX_COUL,HL_FX_VISC],[HL_FY_FT,HL_FY_COUL,HL_FY_VISC],[HL_FZ_FT,HL_FZ_SPRING]]},
  {leg:'ML',grp:0,col:1,rows:[[ML_FX_FT,ML_FX_COUL,ML_FX_VISC],[ML_FY_FT,ML_FY_COUL,ML_FY_VISC],[ML_FZ_FT,ML_FZ_SPRING]]},
  {leg:'FL',grp:0,col:2,rows:[[FL_FX_FT,FL_FX_COUL,FL_FX_VISC],[FL_FY_FT,FL_FY_COUL,FL_FY_VISC],[FL_FZ_FT,FL_FZ_SPRING]]},
  {leg:'HR',grp:1,col:0,rows:[[HR_FX_FT,HR_FX_COUL,HR_FX_VISC],[HR_FY_FT,HR_FY_COUL,HR_FY_VISC],[HR_FZ_FT,HR_FZ_SPRING]]},
  {leg:'MR',grp:1,col:1,rows:[[MR_FX_FT,MR_FX_COUL,MR_FX_VISC],[MR_FY_FT,MR_FY_COUL,MR_FY_VISC],[MR_FZ_FT,MR_FZ_SPRING]]},
  {leg:'FR',grp:1,col:2,rows:[[FR_FX_FT,FR_FX_COUL,FR_FX_VISC],[FR_FY_FT,FR_FY_COUL,FR_FY_VISC],[FR_FZ_FT,FR_FZ_SPRING]]}
];

// sanity check of array lengths
(function(){
  const bad=[];
  PANELS.forEach(p=>p.rows.forEach((r,ri)=>r.forEach((a,si)=>{ if(a.length!==TIME.length) bad.push(p.leg+' r'+ri+' s'+si+' len '+a.length); })));
  if(bad.length) document.getElementById('err').textContent = bad.join(' | ');
})();

const spinePlugin = {
  id:'spines',
  afterDatasetsDraw(chart, args, o){
    const a = chart.chartArea, ctx = chart.ctx;
    ctx.save(); ctx.strokeStyle='#000'; ctx.lineWidth=1.1; ctx.lineCap='square';
    ctx.beginPath();
    if(o.top){ctx.moveTo(a.left,a.top);ctx.lineTo(a.right,a.top);}
    if(o.bottom){ctx.moveTo(a.left,a.bottom);ctx.lineTo(a.right,a.bottom);}
    if(o.left){ctx.moveTo(a.left,a.top);ctx.lineTo(a.left,a.bottom);}
    if(o.right){ctx.moveTo(a.right,a.top);ctx.lineTo(a.right,a.bottom);}
    ctx.stroke(); ctx.restore();
  }
};

function fmtTick(v){
  if (Math.abs(v) < 1e-9) return '0.0';
  return v.toFixed(1).replace('-', '\u2212');
}
function pts(arr){ return TIME.map((t,i)=>({x:t,y:arr[i]})); }

function makePanel(p, ri){
  const left = GEOM.colLeft[p.col], top = GEOM.rowTop[p.grp][ri], h = GEOM.rowH[p.grp], w = GEOM.plotW;
  const showY = p.col === 0;
  const isZ = ri === 2;
  const showX = p.grp === 1 && isZ;
  const PADL = 80.5, PADT = 12, PADR = 10;
  const xAxisH = showX ? 49 : 0;
  const padB0 = showX ? 0 : 12;
  const cLeft = Math.floor(left - PADL), cTop = Math.floor(top - PADT);
  const padLeft = left - cLeft, padTop = top - cTop;
  const cW = Math.ceil(padLeft + w + PADR), cH = Math.ceil(padTop + h + xAxisH + padB0);
  const padBottom = cH - padTop - h - xAxisH;
  const padRight = cW - padLeft - w;

  const cv = document.createElement('canvas');
  cv.width = cW; cv.height = cH;
  cv.style.left = cLeft + 'px'; cv.style.top = cTop + 'px';
  cv.style.width = cW + 'px'; cv.style.height = cH + 'px';
  document.body.appendChild(cv);

  const s = p.rows[ri];
  let datasets;
  if (!isZ) {
    datasets = [
      {label:SERIES_NAMES[0], data:pts(s[0]), borderColor:COLORS.ft, borderWidth:WIDTHS.ft, order:3},
      {label:SERIES_NAMES[1], data:pts(s[1]), borderColor:COLORS.coul, borderWidth:WIDTHS.coul, order:2},
      {label:SERIES_NAMES[2], data:pts(s[2]), borderColor:COLORS.visc, borderWidth:WIDTHS.visc, order:1}
    ];
  } else {
    datasets = [
      {label:SERIES_NAMES[0], data:pts(s[0]), borderColor:COLORS.ft, borderWidth:WIDTHS.ft, order:2},
      {label:SERIES_NAMES[3], data:pts(s[1]), borderColor:COLORS.spring, borderWidth:WIDTHS.spring, order:1}
    ];
  }
  datasets.forEach(d=>{ d.pointRadius=0; d.tension=0; d.fill=false; d.clip=0; d.borderJoinStyle='round'; d.borderCapStyle='round'; });

  const yTicks = isZ ? FZ_TICKS : FXY_TICKS;
  new Chart(cv, {
    type:'line',
    data:{datasets},
    plugins:[spinePlugin],
    options:{
      responsive:false, animation:false, devicePixelRatio:1, events:[],
      layout:{padding:{left: showY?0:padLeft, top:padTop, right:padRight, bottom:padBottom}},
      plugins:{legend:{display:false}, tooltip:{enabled:false}, title:{display:false},
        spines:{top: ri===0, bottom: isZ, left:true, right:true}},
      scales:{
        x:{type:'linear', min:-2.15, max:45.15, display:showX,
           afterFit:(sc)=>{ if (showX) sc.height = xAxisH; },
           afterBuildTicks:(sc)=>{ sc.ticks = X_TICKS.map(v=>({value:v})); },
           ticks:{color:'#000', font:{family:FONT, size:14.7, lineHeight:0.62}, padding:0, maxRotation:0, autoSkip:false,
                  callback:(v)=>String(v)},
           grid:{display:true, drawOnChartArea:false, drawTicks:true, tickLength:4.5, color:'#000', lineWidth:1.1},
           border:{display:false},
           title:{display:true, text:'Time [s]', color:'#000', font:{family:FONT, size:15, lineHeight:1.2}, padding:{top:0,bottom:0.5}}
        },
        y:{type:'linear', min: isZ?-0.096:-0.1, max: isZ?0.808:0.1, display:showY,
           afterFit:(sc)=>{ if (showY) sc.width = padLeft; },
           afterBuildTicks:(sc)=>{ sc.ticks = yTicks.map(v=>({value:v})); },
           ticks:{color:'#000', font:{family:FONT, size:14.7}, padding:7, autoSkip:false, callback:(v)=>fmtTick(v)},
           grid:{display:true, drawOnChartArea:false, drawTicks:true, tickLength:4.5, color:'#000', lineWidth:1.1},
           border:{display:false},
           title:{display:true, text:Y_LABELS[ri], color:'#000', font:{family:FONT, size:14.7, lineHeight:1.2}, padding:{top:10,bottom:0}}
        }
      }
    }
  });
}

PANELS.forEach(p=>{ for(let ri=0; ri<3; ri++) makePanel(p, ri); });
</script>
</body></html>
